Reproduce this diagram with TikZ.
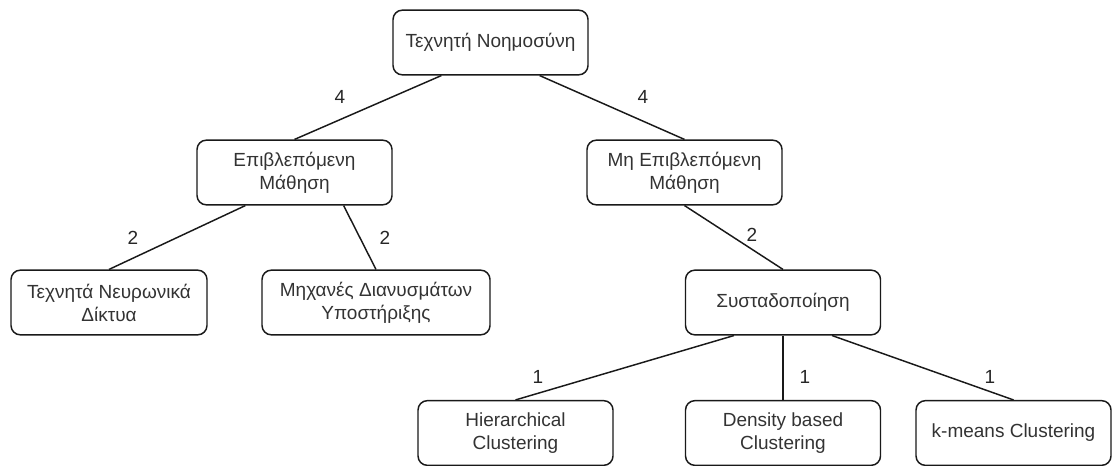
\documentclass[tikz,border=0pt]{standalone}
\usepackage{fontspec}
\setmainfont{Liberation Sans}
\usetikzlibrary{calc}
\begin{document}
\begin{tikzpicture}[x=0.75pt,y=-0.75pt,
  box/.style={draw=black!90, rounded corners=7pt, line width=1.1pt,
    minimum width=146.25pt, minimum height=48.5pt, align=center,
    inner sep=2pt, text=black!80, font=\fontsize{14.25}{17.25}\selectfont},
  conn/.style={draw=black!90, line width=1.1pt},
  lbl/.style={font=\fontsize{14.25}{17}\selectfont, inner sep=0pt, text=black!85}]
\useasboundingbox (0,0) rectangle (1117,466);
\node[box] (A) at (490.5,42.5) {Τεχνητή Νοημοσύνη};
\node[box] (B) at (294.5,172.5) {Επιβλεπόμενη\\Μάθηση};
\node[box] (C) at (684.5,172.5) {Μη Επιβλεπόμενη\\Μάθηση};
\node[box, minimum width=147pt] (D) at (109,302.5) {Τεχνητά Νευρωνικά\\Δίκτυα};
\node[box, minimum width=171pt] (E) at (376,302.5) {Μηχανές Διανυσμάτων\\Υποστήριξης};
\node[box] (F) at (783,302.5) {Συσταδοποίηση};
\node[box] (G) at (515.5,433) {Hierarchical\\Clustering};
\node[box] (H) at (783,433) {Density based\\Clustering};
\node[box] (I) at (1013.5,433) {k-means Clustering};

\draw[conn] ($(A.south west)!0.25!(A.south east)$) -- (B.north);
\draw[conn] ($(A.south west)!0.75!(A.south east)$) -- (C.north);
\draw[conn] ($(B.south west)!0.25!(B.south east)$) -- (D.north);
\draw[conn] ($(B.south west)!0.75!(B.south east)$) -- (E.north);
\draw[conn] (C.south) -- (F.north);
\draw[conn] ($(F.south west)!0.25!(F.south east)$) -- (G.north);
\draw[conn] (F.south) -- (H.north);
\draw[conn] ($(F.south west)!0.75!(F.south east)$) -- (I.north);

\node[lbl] (l1) at (340,97) {4};
\node[lbl] (l2) at (643,97) {4};
\node[lbl] (l3) at (133,238) {2};
\node[lbl] (l4) at (385,238) {2};
\node[lbl] (l5) at (752,235) {2};
\node[lbl] (l6) at (538,377) {1};
\node[lbl] (l7) at (805,377) {1};
\node[lbl] (l8) at (990,377) {1};
\end{tikzpicture}
\end{document}
